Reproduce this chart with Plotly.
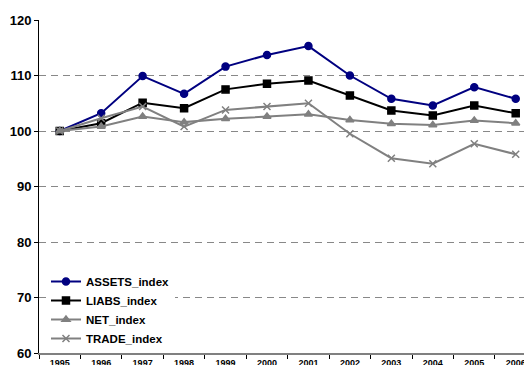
import plotly.graph_objects as go

years = ["1995", "1996", "1997", "1998", "1999", "2000",
         "2001", "2002", "2003", "2004", "2005", "2006"]
assets = [100.0, 103.2, 109.9, 106.7, 111.6, 113.7, 115.3, 110.0, 105.8, 104.6, 107.9, 105.8]
liabs = [100.0, 101.4, 105.1, 104.1, 107.5, 108.5, 109.1, 106.4, 103.7, 102.8, 104.6, 103.2]
net = [100.0, 100.8, 102.6, 101.6, 102.2, 102.6, 103.0, 102.0, 101.3, 101.1, 101.9, 101.4]
trade = [100.0, 102.3, 104.4, 100.8, 103.8, 104.4, 105.0, 99.5, 95.1, 94.1, 97.7, 95.8]

series = [
    ("ASSETS_index", assets, "#000080", "circle", 7),
    ("LIABS_index", liabs, "#000000", "square", 7),
    ("NET_index", net, "#808080", "triangle-up", 7),
    ("TRADE_index", trade, "#808080", "x-thin", 7),
]

fig = go.Figure()
for name, vals, color, sym, size in series:
    fig.add_trace(go.Scatter(
        x=years, y=vals, name=name, mode="lines+markers",
        line=dict(color=color, width=2),
        marker=dict(symbol=sym, size=size, color=color,
                    line=dict(color=color, width=1.5)),
    ))

family = "Arial, Liberation Sans, sans-serif"

fig.update_layout(
    width=524, height=365,
    margin=dict(l=39, r=0, t=20, b=12),
    paper_bgcolor="white", plot_bgcolor="white",
    font=dict(family=family, size=13, color="#000000", weight="bold"),
    showlegend=True,
    legend=dict(
        x=0.0144, y=0.0, xanchor="left", yanchor="bottom",
        bgcolor="white", borderwidth=0,
        font=dict(family=family, size=11.5, color="#000000", weight="bold"),
        itemwidth=30, tracegroupgap=0,
    ),
    xaxis=dict(
        type="category", range=[-0.5, 11.2], automargin=False,
        tickson="boundaries", ticks="outside", ticklen=4, tickcolor="#000000",
        showline=True, linecolor="#808080", linewidth=2,
        showgrid=False, zeroline=False,
        tickfont=dict(size=9),
    ),
    yaxis=dict(
        range=[60, 120], dtick=10, automargin=False,
        ticks="outside", ticklen=4, tickcolor="#000000",
        showline=True, linecolor="#000000", linewidth=1,
        showgrid=True, gridcolor="#888888", gridwidth=1, griddash="7px,5px",
        zeroline=False,
    ),
)

fig.write_html("out.html")
